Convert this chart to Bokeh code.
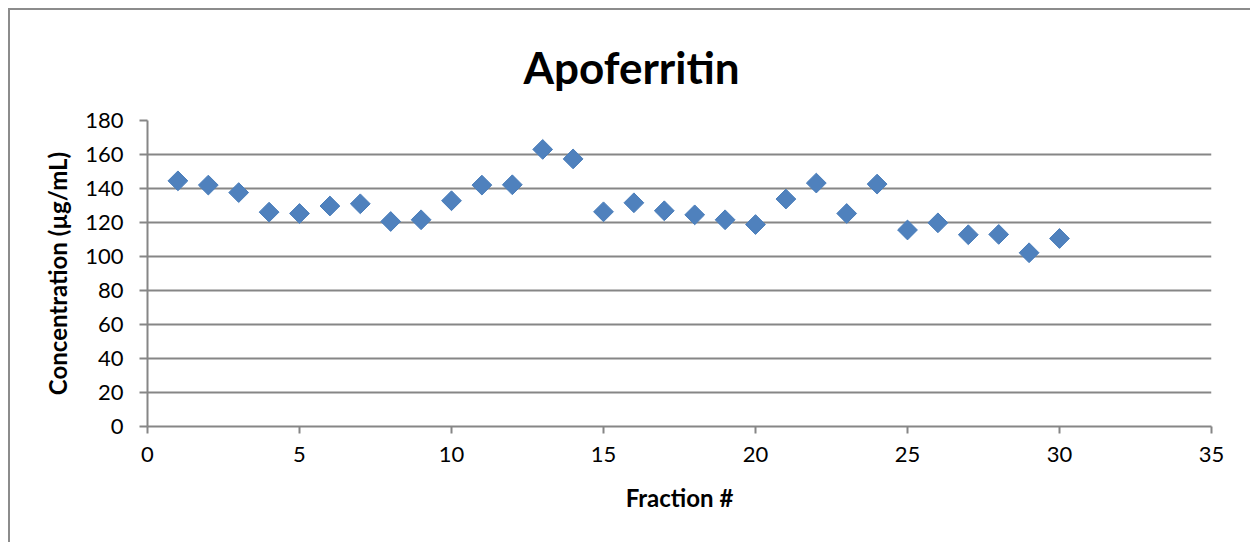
import math
from bokeh.plotting import figure
from bokeh.models import ColumnDataSource, Range1d, FixedTicker, Title
from bokeh.embed import file_html
from bokeh.resources import INLINE

# Apoferritin concentration per collected fraction
fractions = list(range(1, 31))
concentration = [144.5, 142.0, 137.6, 126.1, 125.3, 129.7, 131.0, 120.6, 121.6, 132.8,
                 142.0, 142.2, 163.0, 157.4, 126.3, 131.6, 126.9, 124.5, 121.6, 118.8,
                 133.8, 143.2, 125.3, 142.6, 115.6, 119.8, 112.8, 113.0, 102.2, 110.6]

x_ticks = [0, 5, 10, 15, 20, 25, 30, 35]
y_ticks = [0, 20, 40, 60, 80, 100, 120, 140, 160, 180]

FONT = "Lato"
GRAY = "#868686"

src = ColumnDataSource(dict(x=fractions, y=concentration))

p = figure(width=1242, height=534, output_backend="svg", toolbar_location=None,
           x_range=Range1d(0, 35), y_range=Range1d(0, 180),
           min_border_left=137, min_border_right=41, min_border_top=110, min_border_bottom=118)
p.margin = (0, 0, 0, 0)
p.styles = {"margin-left": "8px", "margin-top": "8px",
            "border-left": "2px solid #8c8c8c", "border-top": "2px solid #8c8c8c"}

p.title = Title(text="Apoferritin", align="left", offset=376, standoff=55,
                text_font=FONT, text_font_size="44px", text_font_style="bold", text_color="black")

p.outline_line_color = None
p.background_fill_color = "white"
p.border_fill_color = "white"

p.xgrid.grid_line_color = None
p.ygrid.grid_line_color = GRAY
p.ygrid.grid_line_width = 2

p.xaxis.ticker = FixedTicker(ticks=x_ticks)
p.yaxis.ticker = FixedTicker(ticks=y_ticks)
for ax in (p.xaxis, p.yaxis):
    ax.axis_line_color = GRAY
    ax.axis_line_width = 2
    ax.major_tick_line_color = GRAY
    ax.major_tick_line_width = 2
    ax.major_tick_in = 0
    ax.minor_tick_line_color = None
    ax.major_label_text_font = FONT
    ax.major_label_text_font_size = "22px"
    ax.major_label_text_color = "black"
    ax.axis_label_text_font = FONT
    ax.axis_label_text_font_size = "24px"
    ax.axis_label_text_font_style = "bold"
    ax.axis_label_text_color = "black"

p.xaxis.major_tick_out = 7
p.xaxis.major_label_standoff = 13
p.xaxis.axis_label = "Fraction #"
p.xaxis.axis_label_standoff = 18

p.yaxis.major_tick_out = 8
p.yaxis.major_label_standoff = 16
p.yaxis.axis_label = "Concentration (µg/mL)"
p.yaxis.axis_label_standoff = 10

p.scatter("x", "y", source=src, marker="square", size=14, angle=math.pi / 4,
          fill_color="#4F81BD", line_color="#4A7EBB", line_width=1)

open("out.html", "w").write(file_html(p, INLINE))
